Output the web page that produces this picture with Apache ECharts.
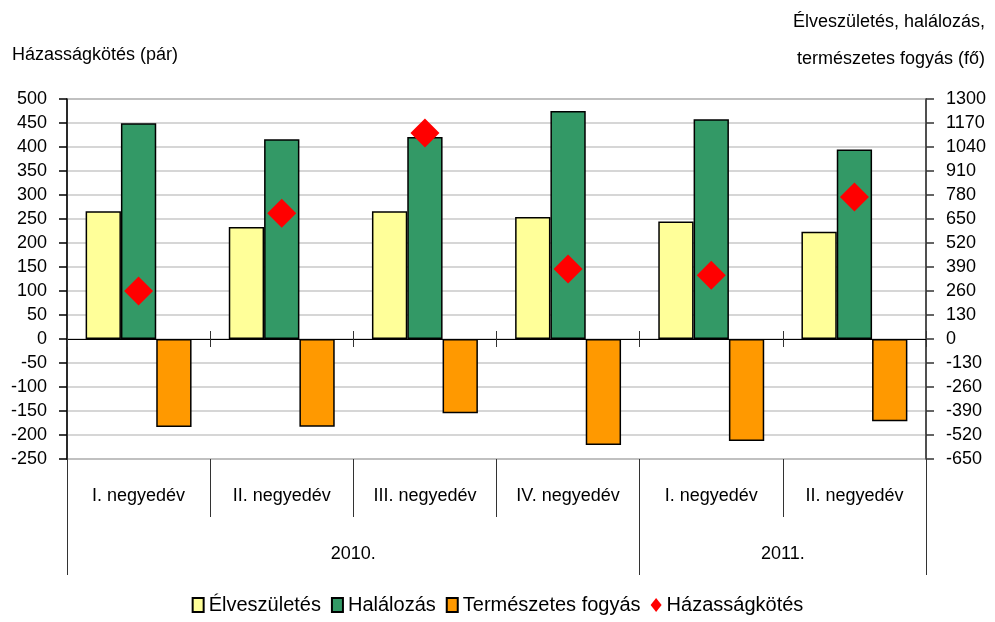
<!DOCTYPE html>
<html>
<head>
<meta charset="utf-8">
<script src="https://cdn.jsdelivr.net/npm/echarts@6/dist/echarts.min.js"></script>
<style>
  html, body { margin: 0; padding: 0; background: #fff; }
  #chart { width: 995px; height: 622px; }
</style>
</head>
<body>
<div id="chart"></div>
<script>
// negyedévek és évek
var quarters = ['I. negyedév', 'II. negyedév', 'III. negyedév', 'IV. negyedév', 'I. negyedév', 'II. negyedév'];
var years = ['2010.', '2011.'];
var yearCenters = [2, 5];      // hol áll az évszám (kategória-egységben)
var yearBounds = [0, 4, 6];    // év határok

// adatok (fő) - jobb tengely
var births = [692, 607, 692, 661, 637, 581];
var deaths = [1168, 1082, 1094, 1235, 1190, 1027];
var naturalDecrease = [-476, -475, -402, -574, -553, -446];
// házasságkötés (pár) - bal tengely
var marriages = [100, 262, 429, 146, 133, 296];

var FONT = "'Liberation Sans', Arial, sans-serif";
var FS = 18;

var chart = echarts.init(document.getElementById('chart'));
chart.setOption({
  animation: false,
  textStyle: { fontFamily: FONT, color: '#000' },
  title: [{
    text: 'Házasságkötés (pár)',
    left: 7, top: 41,
    textStyle: { fontFamily: FONT, fontSize: FS, fontWeight: 'normal', color: '#000' }
  }, {
    text: 'Élveszületés, halálozás,',
    right: 5, top: 8,
    textStyle: { fontFamily: FONT, fontSize: FS, fontWeight: 'normal', color: '#000' }
  }, {
    text: 'természetes fogyás (fő)',
    right: 5, top: 45,
    textStyle: { fontFamily: FONT, fontSize: FS, fontWeight: 'normal', color: '#000' }
  }],
  grid: {
    left: 67, right: 69, top: 99, bottom: 163,
    containLabel: false,
    outerBoundsMode: 'none',
    show: true,
    borderColor: '#8a8a8a',
    borderWidth: 1.5
  },
  legend: {
    bottom: 2,
    left: 'center',
    itemWidth: 11,
    itemHeight: 14,
    itemGap: 10,
    textStyle: { fontFamily: FONT, fontSize: 20, color: '#000' },
    data: [
      { name: 'Élveszületés', icon: 'rect' },
      { name: 'Halálozás', icon: 'rect' },
      { name: 'Természetes fogyás', icon: 'rect' },
      { name: 'Házasságkötés', icon: 'diamond', itemStyle: { borderWidth: 0 } }
    ]
  },
  xAxis: [{
    // negyedév feliratok, alul
    type: 'category',
    data: quarters,
    position: 'bottom',
    axisLine: { show: false, onZero: false },
    axisTick: { show: true, interval: 0, length: 58, lineStyle: { color: '#333', width: 1 } },
    axisLabel: { interval: 0, margin: 28, fontSize: FS, color: '#000', fontFamily: FONT },
    splitLine: { show: false }
  }, {
    // évek
    type: 'value',
    min: 0, max: 6,
    position: 'bottom',
    axisLine: { show: false, onZero: false },
    axisTick: { show: true, length: 116, customValues: yearBounds, lineStyle: { color: '#333', width: 1 } },
    axisLabel: {
      margin: 86, fontSize: FS, color: '#000', fontFamily: FONT,
      customValues: yearCenters,
      formatter: function (v) { return years[yearCenters.indexOf(v)]; }
    },
    splitLine: { show: false }
  }, {
    // nulla vonal, felfelé álló tickekkel
    type: 'category',
    data: quarters,
    position: 'bottom',
    axisLine: { show: true, onZero: true, onZeroAxisIndex: 0, lineStyle: { color: '#000', width: 1 } },
    axisTick: { show: true, inside: true, interval: 0, length: 8, lineStyle: { color: '#333', width: 1 } },
    axisLabel: { show: false }
  }, {
    // nulla vonal, lefelé álló tickek
    type: 'category',
    data: quarters,
    position: 'bottom',
    axisLine: { show: false, onZero: true, onZeroAxisIndex: 0 },
    axisTick: { show: true, inside: false, interval: 0, length: 8, lineStyle: { color: '#333', width: 1 } },
    axisLabel: { show: false }
  }],
  yAxis: [{
    type: 'value',
    min: -250, max: 500, interval: 50,
    position: 'left',
    axisLine: { show: true, lineStyle: { color: '#000', width: 1.5 } },
    axisTick: { show: true, length: 8, lineStyle: { color: '#000', width: 1.5 } },
    axisLabel: { margin: 20, fontSize: FS, color: '#000', fontFamily: FONT },
    splitLine: { show: true, lineStyle: { color: '#c8c8c8', width: 1.5 } }
  }, {
    type: 'value',
    min: -650, max: 1300, interval: 130,
    position: 'right',
    axisLine: { show: true, lineStyle: { color: '#333', width: 1.5 } },
    axisTick: { show: true, length: 8, lineStyle: { color: '#333', width: 1.5 } },
    axisLabel: {
      margin: 20, fontSize: FS, color: '#000', fontFamily: FONT, align: 'left',
      formatter: function (v) { return String(v); }
    },
    splitLine: { show: false }
  }],
  series: [{
    name: 'Élveszületés',
    type: 'bar',
    yAxisIndex: 1,
    barGap: '0%',
    barCategoryGap: '26%',
    itemStyle: { color: '#FFFF99', borderColor: '#000', borderWidth: 1.5 },
    data: births
  }, {
    name: 'Halálozás',
    type: 'bar',
    yAxisIndex: 1,
    barGap: '0%',
    barCategoryGap: '26%',
    itemStyle: { color: '#339966', borderColor: '#000', borderWidth: 1.5 },
    data: deaths
  }, {
    name: 'Természetes fogyás',
    type: 'bar',
    yAxisIndex: 1,
    barGap: '0%',
    barCategoryGap: '26%',
    itemStyle: { color: '#FF9900', borderColor: '#000', borderWidth: 1.5 },
    data: naturalDecrease
  }, {
    name: 'Házasságkötés',
    type: 'line',
    yAxisIndex: 0,
    symbol: 'diamond',
    symbolSize: 29,
    lineStyle: { width: 0, opacity: 0 },
    itemStyle: { color: '#FF0000', borderWidth: 0 },
    z: 5,
    data: marriages
  }]
});
</script>
</body>
</html>
